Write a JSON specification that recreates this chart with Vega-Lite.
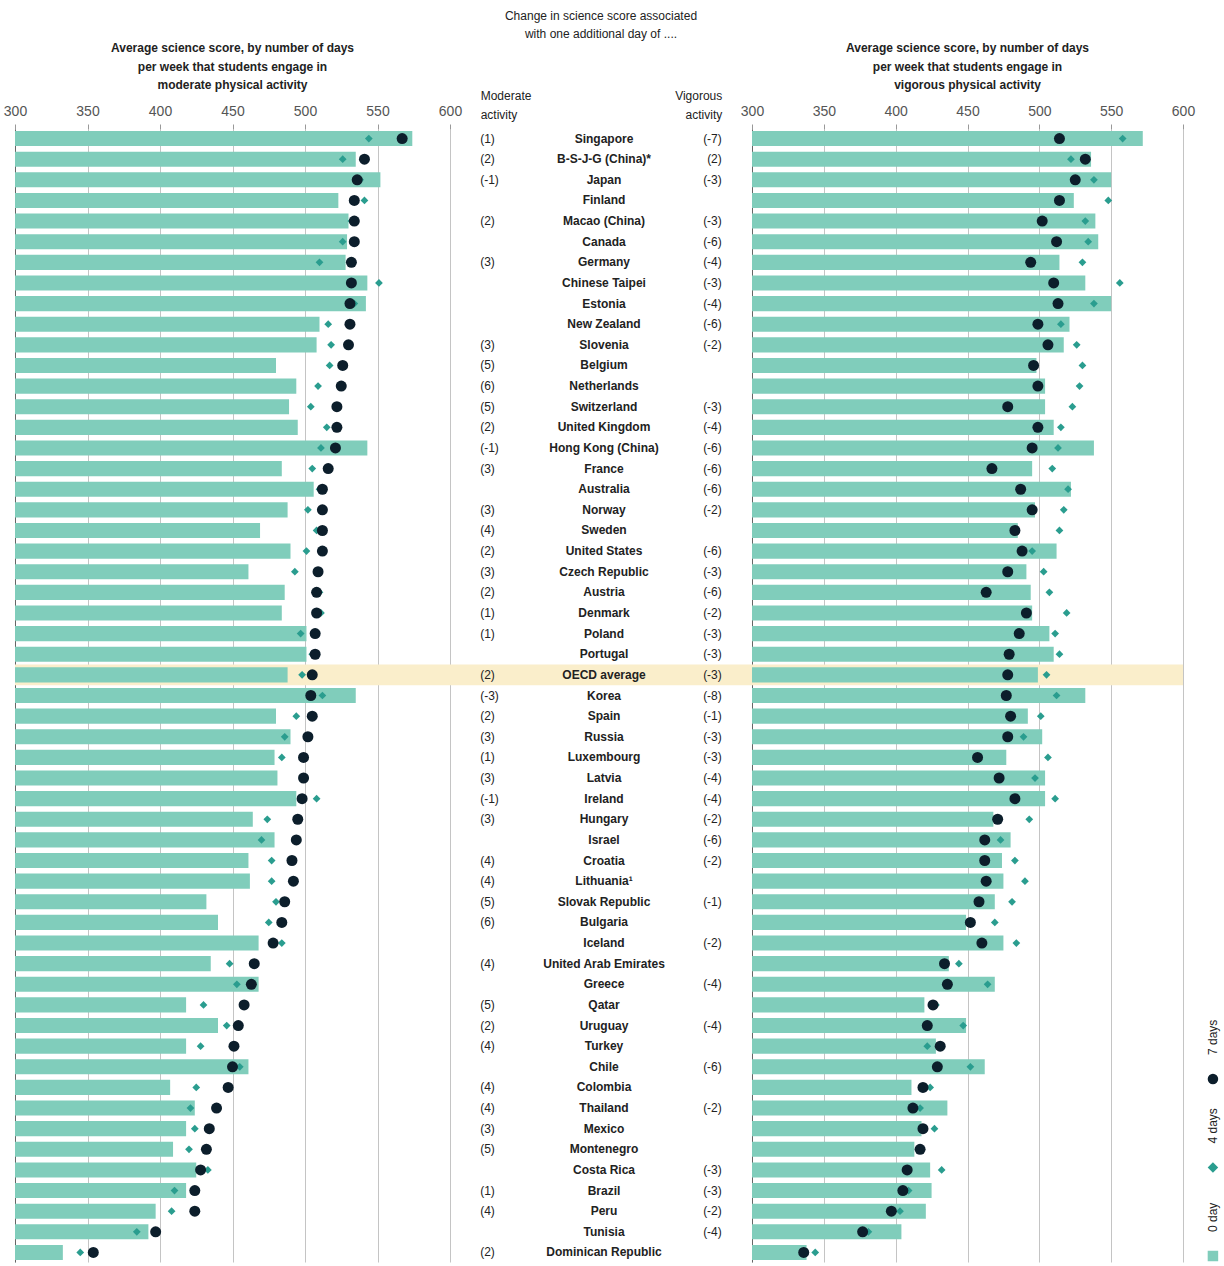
{
  "$schema": "https://vega.github.io/schema/vega-lite/v6.json",
  "padding": {"left": 3, "top": 10, "right": 0, "bottom": 0},
  "bounds": "flush",
  "spacing": 0,
  "config": {
    "font": "Liberation Sans",
    "view": {"stroke": null},
    "title": {"color": "#222", "fontSize": 12, "anchor": "middle"},
    "text": {"color": "#222", "fontSize": 12}
  },
  "datasets": {
    "scores": [
      {"country": "Singapore", "mn": "(1)", "vn": "(-7)", "m0": 574, "m4": 544, "m7": 567, "v0": 572, "v4": 558, "v7": 514},
      {"country": "B-S-J-G (China)*", "mn": "(2)", "vn": "(2)", "m0": 535, "m4": 526, "m7": 541, "v0": 536, "v4": 522, "v7": 532},
      {"country": "Japan", "mn": "(-1)", "vn": "(-3)", "m0": 552, "m4": 538, "m7": 536, "v0": 550, "v4": 538, "v7": 525},
      {"country": "Finland", "mn": "", "vn": "", "m0": 523, "m4": 541, "m7": 534, "v0": 524, "v4": 548, "v7": 514},
      {"country": "Macao (China)", "mn": "(2)", "vn": "(-3)", "m0": 530, "m4": 532, "m7": 534, "v0": 539, "v4": 532, "v7": 502},
      {"country": "Canada", "mn": "", "vn": "(-6)", "m0": 529, "m4": 526, "m7": 534, "v0": 541, "v4": 534, "v7": 512},
      {"country": "Germany", "mn": "(3)", "vn": "(-4)", "m0": 528, "m4": 510, "m7": 532, "v0": 514, "v4": 530, "v7": 494},
      {"country": "Chinese Taipei", "mn": "", "vn": "(-3)", "m0": 543, "m4": 551, "m7": 532, "v0": 532, "v4": 556, "v7": 510},
      {"country": "Estonia", "mn": "", "vn": "(-4)", "m0": 542, "m4": 534, "m7": 531, "v0": 550, "v4": 538, "v7": 513},
      {"country": "New Zealand", "mn": "", "vn": "(-6)", "m0": 510, "m4": 516, "m7": 531, "v0": 521, "v4": 515, "v7": 499},
      {"country": "Slovenia", "mn": "(3)", "vn": "(-2)", "m0": 508, "m4": 518, "m7": 530, "v0": 517, "v4": 526, "v7": 506},
      {"country": "Belgium", "mn": "(5)", "vn": "", "m0": 480, "m4": 517, "m7": 526, "v0": 498, "v4": 530, "v7": 496},
      {"country": "Netherlands", "mn": "(6)", "vn": "", "m0": 494, "m4": 509, "m7": 525, "v0": 504, "v4": 528, "v7": 499},
      {"country": "Switzerland", "mn": "(5)", "vn": "(-3)", "m0": 489, "m4": 504, "m7": 522, "v0": 504, "v4": 523, "v7": 478},
      {"country": "United Kingdom", "mn": "(2)", "vn": "(-4)", "m0": 495, "m4": 515, "m7": 522, "v0": 510, "v4": 515, "v7": 499},
      {"country": "Hong Kong (China)", "mn": "(-1)", "vn": "(-6)", "m0": 543, "m4": 511, "m7": 521, "v0": 538, "v4": 513, "v7": 495},
      {"country": "France", "mn": "(3)", "vn": "(-6)", "m0": 484, "m4": 505, "m7": 516, "v0": 495, "v4": 509, "v7": 467},
      {"country": "Australia", "mn": "", "vn": "(-6)", "m0": 506, "m4": 510, "m7": 512, "v0": 522, "v4": 520, "v7": 487},
      {"country": "Norway", "mn": "(3)", "vn": "(-2)", "m0": 488, "m4": 502, "m7": 512, "v0": 497, "v4": 517, "v7": 495},
      {"country": "Sweden", "mn": "(4)", "vn": "", "m0": 469, "m4": 508, "m7": 512, "v0": 485, "v4": 514, "v7": 483},
      {"country": "United States", "mn": "(2)", "vn": "(-6)", "m0": 490, "m4": 501, "m7": 512, "v0": 512, "v4": 495, "v7": 488},
      {"country": "Czech Republic", "mn": "(3)", "vn": "(-3)", "m0": 461, "m4": 493, "m7": 509, "v0": 491, "v4": 503, "v7": 478},
      {"country": "Austria", "mn": "(2)", "vn": "(-6)", "m0": 486, "m4": 510, "m7": 508, "v0": 494, "v4": 507, "v7": 463},
      {"country": "Denmark", "mn": "(1)", "vn": "(-2)", "m0": 484, "m4": 511, "m7": 508, "v0": 495, "v4": 519, "v7": 491},
      {"country": "Poland", "mn": "(1)", "vn": "(-3)", "m0": 501, "m4": 497, "m7": 507, "v0": 507, "v4": 511, "v7": 486},
      {"country": "Portugal", "mn": "", "vn": "(-3)", "m0": 501, "m4": 505, "m7": 507, "v0": 510, "v4": 514, "v7": 479},
      {"country": "OECD average", "mn": "(2)", "vn": "(-3)", "m0": 488, "m4": 498, "m7": 505, "v0": 499, "v4": 505, "v7": 478},
      {"country": "Korea", "mn": "(-3)", "vn": "(-8)", "m0": 535, "m4": 512, "m7": 504, "v0": 532, "v4": 512, "v7": 477},
      {"country": "Spain", "mn": "(2)", "vn": "(-1)", "m0": 480, "m4": 494, "m7": 505, "v0": 492, "v4": 501, "v7": 480},
      {"country": "Russia", "mn": "(3)", "vn": "(-3)", "m0": 490, "m4": 486, "m7": 502, "v0": 502, "v4": 489, "v7": 478},
      {"country": "Luxembourg", "mn": "(1)", "vn": "(-3)", "m0": 479, "m4": 484, "m7": 499, "v0": 477, "v4": 506, "v7": 457},
      {"country": "Latvia", "mn": "(3)", "vn": "(-4)", "m0": 481, "m4": 500, "m7": 499, "v0": 504, "v4": 497, "v7": 472},
      {"country": "Ireland", "mn": "(-1)", "vn": "(-4)", "m0": 494, "m4": 508, "m7": 498, "v0": 504, "v4": 511, "v7": 483},
      {"country": "Hungary", "mn": "(3)", "vn": "(-2)", "m0": 464, "m4": 474, "m7": 495, "v0": 468, "v4": 493, "v7": 471},
      {"country": "Israel", "mn": "", "vn": "(-6)", "m0": 479, "m4": 470, "m7": 494, "v0": 480, "v4": 473, "v7": 462},
      {"country": "Croatia", "mn": "(4)", "vn": "(-2)", "m0": 461, "m4": 477, "m7": 491, "v0": 474, "v4": 483, "v7": 462},
      {"country": "Lithuania¹", "mn": "(4)", "vn": "", "m0": 462, "m4": 477, "m7": 492, "v0": 475, "v4": 490, "v7": 463},
      {"country": "Slovak Republic", "mn": "(5)", "vn": "(-1)", "m0": 432, "m4": 480, "m7": 486, "v0": 469, "v4": 481, "v7": 458},
      {"country": "Bulgaria", "mn": "(6)", "vn": "", "m0": 440, "m4": 475, "m7": 484, "v0": 449, "v4": 469, "v7": 452},
      {"country": "Iceland", "mn": "", "vn": "(-2)", "m0": 468, "m4": 484, "m7": 478, "v0": 475, "v4": 484, "v7": 460},
      {"country": "United Arab Emirates", "mn": "(4)", "vn": "", "m0": 435, "m4": 448, "m7": 465, "v0": 437, "v4": 444, "v7": 434},
      {"country": "Greece", "mn": "", "vn": "(-4)", "m0": 468, "m4": 453, "m7": 463, "v0": 469, "v4": 464, "v7": 436},
      {"country": "Qatar", "mn": "(5)", "vn": "", "m0": 418, "m4": 430, "m7": 458, "v0": 420, "v4": 428, "v7": 426},
      {"country": "Uruguay", "mn": "(2)", "vn": "(-4)", "m0": 440, "m4": 446, "m7": 454, "v0": 449, "v4": 447, "v7": 422},
      {"country": "Turkey", "mn": "(4)", "vn": "", "m0": 418, "m4": 428, "m7": 451, "v0": 428, "v4": 422, "v7": 431},
      {"country": "Chile", "mn": "", "vn": "(-6)", "m0": 461, "m4": 455, "m7": 450, "v0": 462, "v4": 452, "v7": 429},
      {"country": "Colombia", "mn": "(4)", "vn": "", "m0": 407, "m4": 425, "m7": 447, "v0": 411, "v4": 424, "v7": 419},
      {"country": "Thailand", "mn": "(4)", "vn": "(-2)", "m0": 424, "m4": 421, "m7": 439, "v0": 436, "v4": 417, "v7": 412},
      {"country": "Mexico", "mn": "(3)", "vn": "", "m0": 418, "m4": 424, "m7": 434, "v0": 418, "v4": 427, "v7": 419},
      {"country": "Montenegro", "mn": "(5)", "vn": "", "m0": 409, "m4": 420, "m7": 432, "v0": 413, "v4": 418, "v7": 417},
      {"country": "Costa Rica", "mn": "", "vn": "(-3)", "m0": 425, "m4": 433, "m7": 428, "v0": 424, "v4": 432, "v7": 408},
      {"country": "Brazil", "mn": "(1)", "vn": "(-3)", "m0": 418, "m4": 410, "m7": 424, "v0": 425, "v4": 409, "v7": 405},
      {"country": "Peru", "mn": "(4)", "vn": "(-2)", "m0": 397, "m4": 408, "m7": 424, "v0": 421, "v4": 403, "v7": 397},
      {"country": "Tunisia", "mn": "", "vn": "(-4)", "m0": 392, "m4": 384, "m7": 397, "v0": 404, "v4": 381, "v7": 377},
      {"country": "Dominican Republic", "mn": "(2)", "vn": "", "m0": 333, "m4": 345, "m7": 354, "v0": 338, "v4": 344, "v7": 336}
    ],
    "legend": [
      {"label": "7 days"},
      {"label": "4 days"},
      {"label": "0 day"}
    ]
  },
  "hconcat": [
    {
      "width": 435,
      "height": 1133,
      "data": {"name": "scores"},
      "title": {
        "text": ["Average science score, by number of days", "per week that students engage in", "moderate physical activity"],
        "fontWeight": "bold",
        "lineHeight": 18.5,
        "offset": 12
      },
      "encoding": {
        "y": {
          "field": "country", "type": "nominal", "sort": null,
          "scale": {"paddingInner": 0.27, "paddingOuter": 0.1},
          "axis": {"labels": false, "ticks": false, "title": null, "domainColor": "#666", "grid": false}
        }
      },
      "layer": [
        {
          "mark": {"type": "bar", "color": "#faeecb", "height": {"band": 1.37}},
          "encoding": {
            "x": {"datum": 300, "type": "quantitative", "scale": {"domain": [300, 600], "nice": false, "zero": false},
              "axis": {"orient": "top", "values": [300, 350, 400, 450, 500, 550, 600], "grid": true, "gridColor": "#c4c4c4",
                "domain": false, "tickSize": 5, "tickColor": "#999", "labelFontSize": 14, "labelColor": "#555",
                "labelPadding": 6, "labelFlush": false, "title": null}},
            "x2": {"datum": 600},
            "opacity": {"condition": {"test": "datum.country == 'OECD average'", "value": 1}, "value": 0}
          }
        },
        {
          "mark": {"type": "bar", "color": "#80cdbb"},
          "encoding": {"x": {"field": "m0", "type": "quantitative"}, "x2": {"datum": 300}}
        },
        {
          "mark": {"type": "point", "shape": "diamond", "filled": true, "size": 60, "color": "#2a9d8f", "opacity": 1},
          "encoding": {"x": {"field": "m4", "type": "quantitative"}}
        },
        {
          "mark": {"type": "circle", "size": 121, "color": "#0c1e2b", "opacity": 1},
          "encoding": {"x": {"field": "m7", "type": "quantitative"}}
        }
      ]
    },
    {
      "width": 302,
      "height": 1133,
      "data": {"name": "scores"},
      "title": {
        "text": ["Change in science score associated", "with one additional day of ...."],
        "fontWeight": "normal",
        "lineHeight": 18,
        "offset": 48
      },
      "encoding": {
        "y": {
          "field": "country", "type": "nominal", "sort": null,
          "scale": {"paddingInner": 0.27, "paddingOuter": 0.1},
          "axis": null
        }
      },
      "layer": [
        {
          "mark": {"type": "bar", "color": "#faeecb", "height": {"band": 1.37}},
          "encoding": {
            "x": {"datum": 0, "type": "quantitative", "scale": {"domain": [0, 1], "nice": false, "zero": false},
              "axis": {"orient": "top", "values": [0.1, 0.9], "grid": false, "domain": false, "ticks": false,
                "labelExpr": "'activity'",
                "labelAlign": {"condition": {"test": "datum.value < 0.5", "value": "left"}, "value": "right"},
                "labelFontSize": 12, "labelColor": "#222", "labelPadding": 8,
                "labelFlush": false, "title": null}},
            "x2": {"datum": 1},
            "opacity": {"condition": {"test": "datum.country == 'OECD average'", "value": 1}, "value": 0}
          }
        },
        {
          "mark": {"type": "text", "align": "left", "baseline": "middle"},
          "encoding": {
            "x": {"datum": 0.1, "type": "quantitative", "scale": {"domain": [0, 1], "nice": false, "zero": false},
              "axis": {"orient": "top", "offset": 19, "values": [0.1, 0.9], "grid": false, "domain": false, "ticks": false,
                "labelExpr": "datum.value < 0.5 ? 'Moderate' : 'Vigorous'",
                "labelAlign": {"condition": {"test": "datum.value < 0.5", "value": "left"}, "value": "right"},
                "labelFontSize": 12, "labelColor": "#222", "labelPadding": 8,
                "labelFlush": false, "title": null}},
            "text": {"field": "mn"}
          }
        },
        {
          "mark": {"type": "text", "align": "center", "baseline": "middle", "fontWeight": "bold"},
          "encoding": {
            "x": {"datum": 0.51, "type": "quantitative", "scale": {"domain": [0, 1], "nice": false, "zero": false}, "axis": null},
            "text": {"field": "country"}
          }
        },
        {
          "mark": {"type": "text", "align": "right", "baseline": "middle"},
          "encoding": {
            "x": {"datum": 0.9, "type": "quantitative", "scale": {"domain": [0, 1], "nice": false, "zero": false}, "axis": null},
            "text": {"field": "vn"}
          }
        }
      ],
      "resolve": {"scale": {"x": "independent"}, "axis": {"x": "independent"}}
    },
    {
      "width": 431,
      "height": 1133,
      "data": {"name": "scores"},
      "title": {
        "text": ["Average science score, by number of days", "per week that students engage in", "vigorous physical activity"],
        "fontWeight": "bold",
        "lineHeight": 18.5,
        "offset": 12
      },
      "encoding": {
        "y": {
          "field": "country", "type": "nominal", "sort": null,
          "scale": {"paddingInner": 0.27, "paddingOuter": 0.1},
          "axis": {"labels": false, "ticks": false, "title": null, "domainColor": "#666", "grid": false}
        }
      },
      "layer": [
        {
          "mark": {"type": "bar", "color": "#faeecb", "height": {"band": 1.37}},
          "encoding": {
            "x": {"datum": 300, "type": "quantitative", "scale": {"domain": [300, 600], "nice": false, "zero": false},
              "axis": {"orient": "top", "values": [300, 350, 400, 450, 500, 550, 600], "grid": true, "gridColor": "#c4c4c4",
                "domain": false, "tickSize": 5, "tickColor": "#999", "labelFontSize": 14, "labelColor": "#555",
                "labelPadding": 6, "labelFlush": false, "title": null}},
            "x2": {"datum": 600},
            "opacity": {"condition": {"test": "datum.country == 'OECD average'", "value": 1}, "value": 0}
          }
        },
        {
          "mark": {"type": "bar", "color": "#80cdbb"},
          "encoding": {"x": {"field": "v0", "type": "quantitative"}, "x2": {"datum": 300}}
        },
        {
          "mark": {"type": "point", "shape": "diamond", "filled": true, "size": 60, "color": "#2a9d8f", "opacity": 1},
          "encoding": {"x": {"field": "v4", "type": "quantitative"}}
        },
        {
          "mark": {"type": "circle", "size": 121, "color": "#0c1e2b", "opacity": 1},
          "encoding": {"x": {"field": "v7", "type": "quantitative"}}
        }
      ]
    },
    {
      "width": 41,
      "height": 1133,
      "data": {"name": "legend"},
      "encoding": {
        "y": {"field": "label", "type": "nominal", "sort": null,
          "scale": {"type": "point", "padding": 0, "domain": ["7 days", "4 days", "0 day"], "range": [950, 1127]}, "axis": null},
        "x": {"datum": 0.73, "type": "quantitative", "scale": {"domain": [0, 1]}, "axis": null}
      },
      "layer": [
        {
          "mark": {"type": "point", "filled": true, "size": 110, "opacity": 1},
          "encoding": {
            "shape": {"field": "label", "type": "nominal", "scale": {"domain": ["7 days", "4 days", "0 day"], "range": ["circle", "diamond", "square"]}, "legend": null},
            "color": {"field": "label", "type": "nominal", "scale": {"domain": ["7 days", "4 days", "0 day"], "range": ["#0c1e2b", "#2a9d8f", "#80cdbb"]}, "legend": null}
          }
        },
        {
          "mark": {"type": "text", "angle": 270, "align": "left", "baseline": "middle", "dx": 24},
          "encoding": {"text": {"field": "label"}}
        }
      ]
    }
  ],
  "resolve": {"scale": {"x": "independent", "y": "independent", "color": "independent", "shape": "independent"}}
}
